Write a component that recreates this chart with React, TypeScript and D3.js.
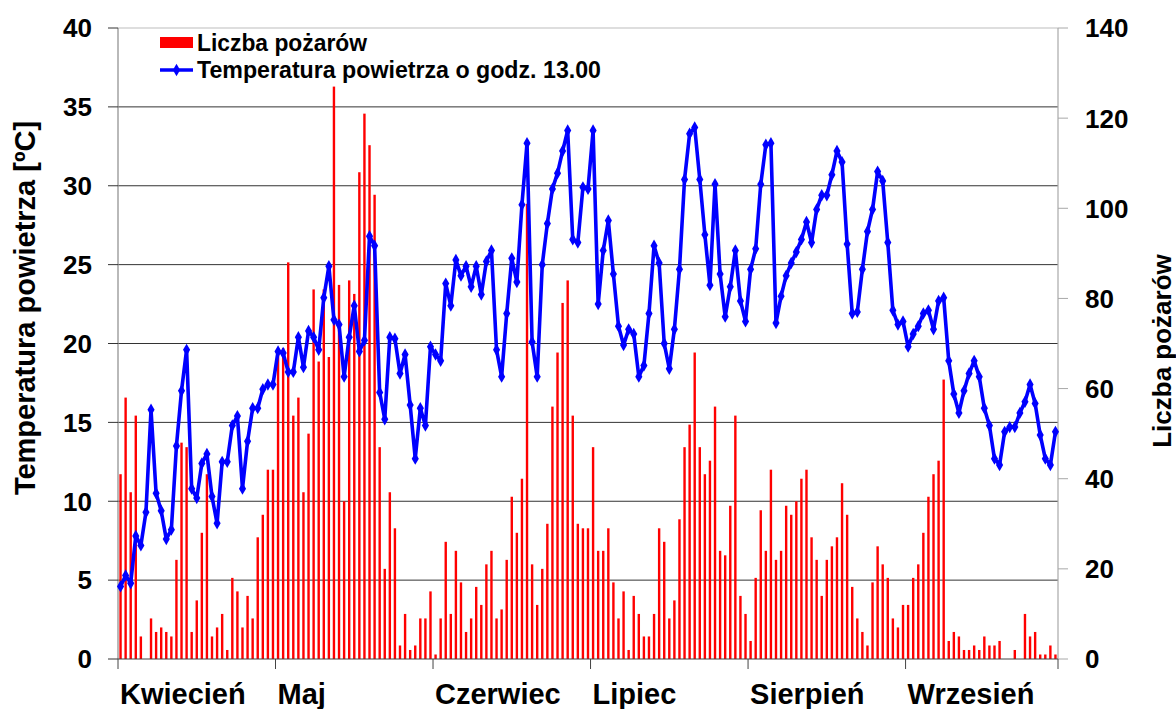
import React from 'react';
import * as d3 from 'd3';

// daily values, 1 April – end of September (185 categories on the Excel axis)
const temperature = [
  4.6, 5.3, 4.8, 7.8, 7.2, 9.3, 15.8, 10.5, 9.4, 7.6, 8.2, 13.5, 17.0, 19.6, 10.8, 10.2, 12.4, 13.0, 10.3, 8.6,
  12.5, 12.5, 14.8, 15.4, 10.8, 13.8, 15.9, 15.9, 17.1, 17.4, 17.4,
  19.5, 19.4, 18.2, 18.2, 20.4, 18.5, 20.8, 20.4, 19.6, 22.9, 24.9, 21.5, 21.2, 17.9, 20.4, 22.4, 19.5, 20.2,
  26.8, 26.2, 16.9, 15.2, 20.4, 20.3, 18.1, 19.3, 16.1, 12.7, 15.9, 14.8, 19.8,
  19.3, 18.9, 23.8, 22.4, 25.3, 24.3, 24.9, 23.6, 24.9, 23.1, 25.2, 25.9, 19.6, 17.9, 21.9, 25.4, 23.9, 28.8,
  32.7, 20.1, 17.9, 25.0, 27.6, 29.8, 30.8, 32.2, 33.5, 26.6, 26.4, 29.9,
  29.8, 33.5, 22.5, 25.9, 27.8, 24.4, 21.1, 19.9, 20.9, 20.6, 17.9, 18.6, 21.9, 26.2, 25.1, 20.0, 18.4, 20.9,
  24.7, 30.4, 33.3, 33.7, 30.4, 26.9, 23.7, 30.1, 24.4, 21.7, 23.6, 25.9, 22.7,
  21.4, 24.7, 26.0, 30.1, 32.6, 32.7, 21.3, 23.0, 24.3, 25.1, 25.8, 26.6, 27.7, 26.4, 28.5, 29.4, 29.4, 30.7,
  32.2, 31.5, 26.3, 21.9, 22.0, 24.7, 27.1, 28.5, 30.9, 30.3, 26.4, 22.1,
  21.2, 21.4, 19.8, 20.6, 21.1, 21.9, 22.1, 20.9, 22.7, 22.9, 18.9, 16.8, 15.6, 17.0, 18.1, 18.9, 17.9, 15.9,
  14.8, 12.7, 12.3, 14.4, 14.7, 14.7, 15.6, 16.3, 17.4, 16.2, 14.2, 12.7, 12.3, 14.4,
];

const fires = [
  41, 58, 37, 54, 5, 0, 9, 6, 7, 6, 5, 22, 48, 47, 6, 13, 28, 41, 5, 7, 10, 2, 18, 15, 7, 14, 9, 27, 32, 42, 42,
  69, 69, 88, 54, 58, 37, 50, 82, 66, 82, 67, 127, 83, 35, 84, 81, 108, 121, 114, 103, 47, 20, 37, 29, 3, 10, 2,
  3, 9, 9,
  15, 1, 9, 26, 10, 24, 17, 6, 9, 16, 12, 21, 24, 9, 11, 22, 36, 28, 40, 101, 21, 12, 20, 30, 56, 68, 79, 84, 54,
  30, 29,
  29, 47, 24, 24, 29, 17, 9, 15, 2, 14, 10, 5, 5, 10, 29, 26, 9, 13, 31, 47, 52, 68, 47, 41, 44, 56, 24, 23, 34, 54,
  14, 10, 4, 18, 33, 24, 42, 22, 24, 34, 32, 35, 40, 42, 27, 22, 14, 22, 25, 27, 39, 32, 16, 9, 6, 3, 17, 25, 21,
  18, 9,
  7, 12, 12, 18, 21, 28, 36, 41, 44, 62, 4, 6, 5, 2, 2, 3, 2, 5, 3, 3, 4, 0, 0, 2, 0, 10, 5, 6, 1, 1, 3, 1,
];

const months = ['Kwiecień', 'Maj', 'Czerwiec', 'Lipiec', 'Sierpień', 'Wrzesień'];
const monthStart = [0, 31, 62, 93, 124, 155];
const tempTicks = [0, 5, 10, 15, 20, 25, 30, 35, 40];
const fireTicks = [0, 20, 40, 60, 80, 100, 120, 140];

const W = 1176;
const H = 709;
const FONT = '"Liberation Sans", Arial, sans-serif';

export default function App() {
  const m = { left: 118, right: 1058, top: 28, bottom: 659 };
  const days = d3.range(temperature.length);

  const x = d3.scaleBand<number>().domain(days).range([m.left, m.right]).padding(0);
  const yT = d3.scaleLinear().domain([0, 40]).range([m.bottom, m.top]);
  const yF = d3.scaleLinear().domain([0, 140]).range([m.bottom, m.top]);
  const cx = (i: number) => (x(i) as number) + x.bandwidth() / 2;

  const line = d3.line<number>().x((_, i) => cx(i)).y(v => yT(v));
  const diamond = d3.symbol(d3.symbolDiamond, 44)();

  const barW = 2.4;

  return (
    <svg width={W} height={H} style={{ position: 'absolute', left: 0, top: 0, background: '#fff' }}
      fontFamily={FONT} fontWeight="bold">
      {/* plot frame + gridlines */}
      <line x1={m.left} x2={m.right} y1={m.top} y2={m.top} stroke="#bdbdbd" strokeWidth={1} />
      {tempTicks.slice(1, -1).map(t => (
        <line key={t} x1={m.left} x2={m.right} y1={yT(t)} y2={yT(t)} stroke="#333" strokeWidth={1} />
      ))}

      {/* fires */}
      {fires.map((f, i) => f > 0 && (
        <rect key={i} x={cx(i) - barW / 2} y={yF(f)} width={barW} height={yF(0) - yF(f)} fill="#ff0000" />
      ))}

      {/* axes lines */}
      <line x1={m.left} x2={m.left} y1={m.top} y2={m.bottom} stroke="#8a8a8a" strokeWidth={1.2} />
      <line x1={m.right} x2={m.right} y1={m.top} y2={m.bottom} stroke="#a8a8a8" strokeWidth={1.2} />
      <line x1={m.left} x2={m.right} y1={m.bottom} y2={m.bottom} stroke="#444" strokeWidth={1.2} />

      {/* temperature line */}
      <path d={line(temperature) as string} fill="none" stroke="#0000ff" strokeWidth={3.6} strokeLinejoin="round" />
      {temperature.map((t, i) => (
        <path key={i} d={diamond as string} transform={`translate(${cx(i)},${yT(t)})`} fill="#0000ff" />
      ))}

      {/* left axis */}
      {tempTicks.map(t => (
        <g key={t}>
          <line x1={m.left - 10} x2={m.left} y1={yT(t)} y2={yT(t)} stroke="#333" strokeWidth={1} />
          <text x={92} y={yT(t)} dy="0.36em" textAnchor="end" fontSize={26}>{t}</text>
        </g>
      ))}
      <text transform={`translate(35,308) rotate(-90)`} textAnchor="middle" fontSize={29}>
        Temperatura powietrza [ºC]
      </text>

      {/* right axis */}
      {fireTicks.map(f => (
        <g key={f}>
          <line x1={m.right} x2={m.right + 10} y1={yF(f)} y2={yF(f)} stroke="#a8a8a8" strokeWidth={1} />
          <text x={1085} y={yF(f)} dy="0.36em" textAnchor="start" fontSize={26}>{f}</text>
        </g>
      ))}
      <text transform={`translate(1171,351) rotate(-90)`} textAnchor="middle" fontSize={26}>
        Liczba pożarów
      </text>

      {/* month axis */}
      {[...monthStart, temperature.length].map(d => {
        const px = d < temperature.length ? (x(d) as number) : m.right;
        return <line key={d} x1={px} x2={px} y1={m.bottom} y2={m.bottom + 10} stroke="#444" strokeWidth={1} />;
      })}
      {months.map((name, k) => (
        <text key={name} x={(x(monthStart[k]) as number) + 2} y={704} fontSize={29}>{name}</text>
      ))}

      {/* legend */}
      <rect x={160} y={37} width={33} height={11} fill="#ff0000" />
      <text x={197} y={51} fontSize={23} textLength={170} lengthAdjust="spacingAndGlyphs">Liczba pożarów</text>
      <line x1={160} x2={193} y1={70} y2={70} stroke="#0000ff" strokeWidth={3.6} />
      <path d={diamond as string} transform="translate(176.5,70)" fill="#0000ff" />
      <text x={197} y={78} fontSize={23} textLength={404} lengthAdjust="spacingAndGlyphs">
        Temperatura powietrza o godz. 13.00
      </text>
    </svg>
  );
}
